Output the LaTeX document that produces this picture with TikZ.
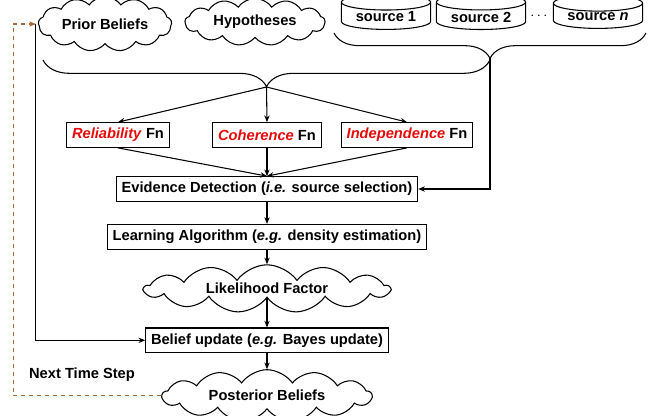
\documentclass[tikz,border=0pt]{standalone}
\usepackage{fontspec}
\setmainfont{Liberation Sans}
\usepackage{xcolor}
\usepackage{tikz}
\usetikzlibrary{arrows.meta,positioning,shapes.symbols,shapes.geometric,decorations.pathreplacing}
\definecolor{fnred}{RGB}{230,10,10}
\definecolor{steplink}{RGB}{165,105,55}
\newcommand{\hl}[1]{\textcolor{fnred}{\textit{#1}}}

\begin{document}
\begin{tikzpicture}[x=0.75pt,y=-0.75pt,font=\fontsize{11}{13}\selectfont\bfseries,
  >={Stealth[length=5pt,width=4pt]},line width=0.8pt,
  b/.style={draw,minimum height=18.5pt,inner xsep=4pt,align=center},
  cl/.style={draw,cloud,cloud puffs=13,cloud puff arc=110,inner sep=0pt,aspect=#1},
  src/.style={draw,cylinder,shape border rotate=90,aspect=0.25,minimum width=67pt,minimum height=21pt,inner sep=1pt},
  br/.style={decorate,decoration={brace,mirror,amplitude=#1}}]
  \useasboundingbox (0,0) rectangle (655,415);
  % inputs row
  \node[cl=3,minimum width=100pt,minimum height=33pt](prior) at (105,24){Prior Beliefs};
  \node[cl=3.5,minimum width=105pt,minimum height=30pt](hyp) at (255,22){Hypotheses};
  \node[src](s1) at (386,17){source 1};
  \node[src](s2) at (481,17){source 2};
  \node(dots) at (539,16){$\cdots$};
  \node[src](sn) at (598,17){source \textit{n}};
  % braces
  \draw[br=19pt](334,33)--(646,33);
  \coordinate(stip) at (490,58);
  \draw[br=20pt](43,60)--(490,60);
  \coordinate(btip) at (266.5,87);
  % function row
  \node[b](rel) at (118,135){\hl{Reliability} Fn};
  \node[b](coh) at (267,135){\hl{Coherence} Fn};
  \node[b](ind) at (407,135){\hl{Independence} Fn};
  \draw[->](btip)--(rel.north);\draw[->](btip)--(coh.north);\draw[->](btip)--(ind.north);
  % main chain
  \node[b](evid) at (267,189){Evidence Detection (\textit{i.e.} source selection)};
  \node[b,below=16.5pt of evid](learn){Learning Algorithm (\textit{e.g.} density estimation)};
  \node[cl=6.4,minimum width=184pt,minimum height=29pt,below=11pt of learn](lik){Likelihood Factor};
  \node[b,below=22pt of lik](belief){Belief update (\textit{e.g.} Bayes update)};
  \node[cl=5.1,minimum width=157pt,minimum height=31pt,below=12pt of belief](post){Posterior Beliefs};
  \node(next) at (82,375){Next Time Step};
  \draw[->](rel.south)--(evid.north);\draw[->](coh.south)--(evid.north);\draw[->](ind.south)--(evid.north);
  \draw[->](stip)|-(evid.east);
  \draw[->](evid)--(learn);\draw[->](learn)--(lik);\draw[->](lik)--(belief);\draw[->](belief)--(post);
  % feedback
  \coordinate(pin) at ([xshift=-1.5pt]prior.west);
  \draw[->](pin)|-(belief.west);
  \draw[->,dashed,steplink](post.west)--++(-148,0)|-(pin);
\end{tikzpicture}
\end{document}
